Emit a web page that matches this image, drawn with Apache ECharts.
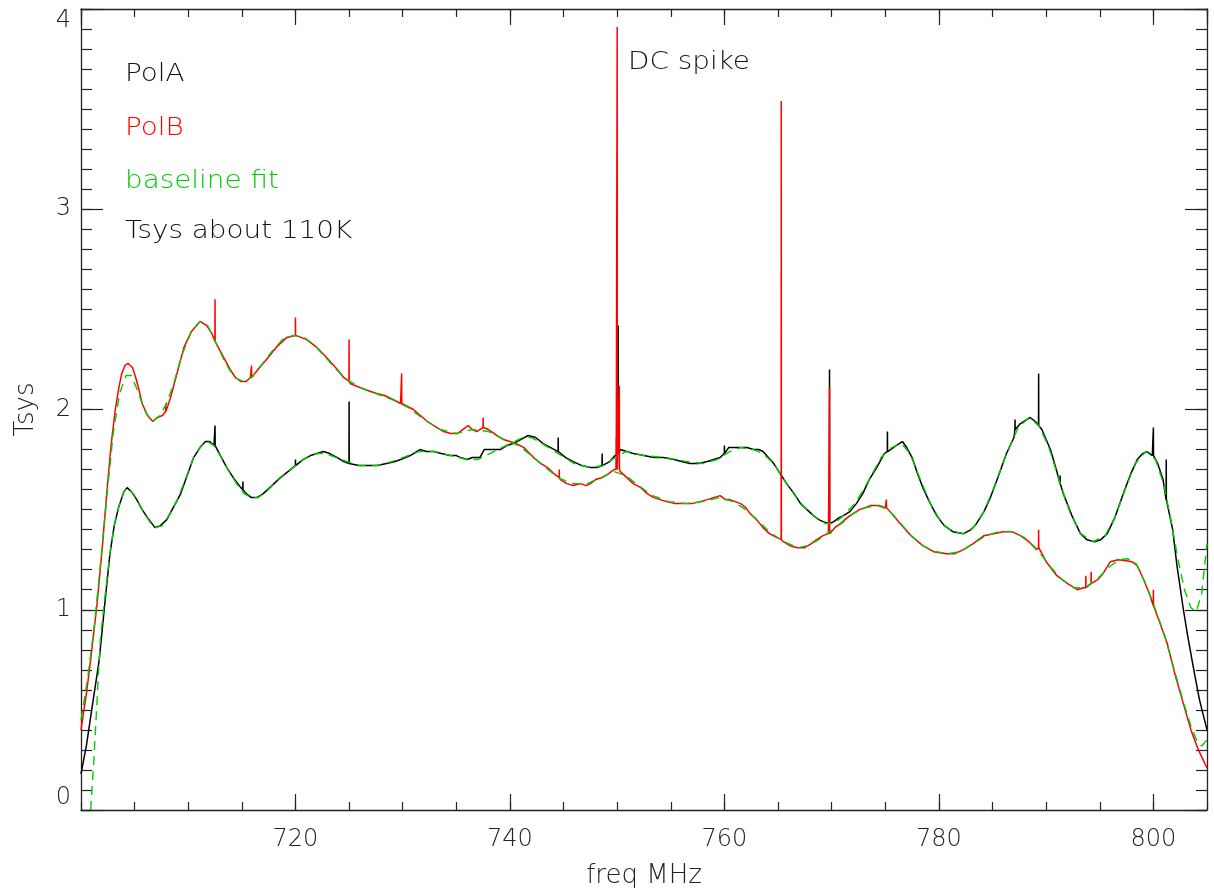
<!DOCTYPE html>
<html>
<head>
<meta charset="utf-8">
<script src="https://cdn.jsdelivr.net/npm/echarts@6/dist/echarts.min.js"></script>
<style>
html,body{margin:0;padding:0;background:#fff;}
#chart{width:1214px;height:896px;}
</style>
</head>
<body>
<div id="chart"></div>
<script>
// ---- data ----
const polAFreq = [700.0,700.5,701.0,701.7,702.2,702.7,703.1,703.5,704.0,704.3,704.7,705.2,705.7,706.2,706.9,707.4,708.0,708.6,709.3,709.9,710.5,711.1,711.6,712.0,712.4,713.0,713.6,714.2,714.9,715.4,715.9,716.4,717.0,717.8,718.6,719.3,720.1,720.7,721.4,722.0,722.6,723.2,723.9,724.5,725.1,725.9,726.7,727.6,728.5,729.3,729.8,730.7,731.6,732.2,732.9,733.6,734.4,735.0,735.4,736.0,736.5,737.2,737.6,738.2,739.1,739.7,740.3,741.0,741.7,742.4,743.1,743.8,744.5,745.2,745.9,746.7,747.5,748.1,748.7,749.3,749.8,750.3,750.9,751.5,752.5,753.4,754.3,755.3,756.0,756.8,757.6,758.4,759.0,759.6,760.0,760.4,761.0,761.5,762.1,762.7,763.2,763.6,764.1,764.6,765.2,765.8,766.5,767.1,767.7,768.3,768.8,769.2,769.8,770.2,770.7,771.1,771.7,772.3,772.9,773.5,774.2,774.9,775.5,776.0,776.6,777.0,777.5,778.0,778.5,779.2,779.8,780.5,781.3,782.3,783.0,783.5,784.2,784.8,785.5,786.3,787.0,787.6,788.5,789.0,789.6,790.4,791.0,791.6,792.4,793.2,793.8,794.5,795.1,795.7,796.4,797.2,797.9,798.5,799.0,799.4,799.9,800.4,800.9,801.3,801.8,802.2,802.8,803.2,803.7,804.3,805.0];
const polATsys = [0.18,0.32,0.50,0.75,1.02,1.28,1.42,1.51,1.59,1.61,1.59,1.55,1.50,1.46,1.41,1.42,1.45,1.51,1.58,1.67,1.76,1.81,1.84,1.84,1.82,1.77,1.71,1.66,1.61,1.58,1.56,1.56,1.58,1.62,1.66,1.69,1.72,1.75,1.77,1.78,1.79,1.78,1.76,1.74,1.73,1.72,1.72,1.72,1.73,1.74,1.75,1.77,1.80,1.79,1.79,1.78,1.77,1.77,1.76,1.75,1.76,1.76,1.80,1.80,1.80,1.82,1.83,1.85,1.87,1.86,1.83,1.81,1.79,1.76,1.74,1.72,1.71,1.71,1.72,1.74,1.77,1.80,1.79,1.78,1.77,1.76,1.76,1.75,1.74,1.73,1.73,1.74,1.75,1.76,1.78,1.81,1.81,1.81,1.81,1.80,1.80,1.79,1.76,1.73,1.68,1.63,1.58,1.53,1.50,1.47,1.45,1.44,1.43,1.44,1.46,1.47,1.49,1.53,1.58,1.65,1.71,1.78,1.80,1.82,1.84,1.81,1.76,1.68,1.61,1.53,1.47,1.42,1.39,1.38,1.40,1.43,1.49,1.56,1.66,1.78,1.86,1.93,1.96,1.94,1.90,1.80,1.69,1.58,1.47,1.38,1.35,1.34,1.35,1.38,1.46,1.58,1.68,1.75,1.78,1.79,1.77,1.73,1.65,1.55,1.40,1.22,1.00,0.87,0.72,0.55,0.40];
const polASpikeFreq = [712.5,715.1,720.0,725.0,744.5,748.6,750.1,760.0,769.8,775.2,787.1,789.3,791.3,800.0,801.2];
const polASpikeBase = [1.82,1.60,1.72,1.73,1.79,1.72,1.78,1.78,1.43,1.79,1.90,1.92,1.63,1.77,1.55];
const polASpikeTop  = [1.92,1.64,1.75,2.04,1.86,1.78,2.42,1.82,2.20,1.89,1.95,2.18,1.67,1.91,1.75];

const polBFreq = [700.0,700.5,700.9,701.5,702.0,702.4,702.8,703.2,703.5,703.8,704.1,704.4,704.8,705.1,705.4,705.7,706.2,706.7,707.1,707.6,708.3,708.9,709.6,710.3,711.1,711.7,712.2,712.7,713.3,713.9,714.4,714.9,715.4,715.8,716.5,717.3,718.2,719.2,720.1,721.0,722.0,722.9,723.9,724.5,725.1,726.0,727.0,727.6,728.3,729.1,729.8,731.0,732.3,733.2,733.8,734.5,735.1,735.6,736.1,736.5,736.9,737.5,738.0,738.8,739.4,740.0,740.6,741.3,742.2,742.9,743.5,744.1,744.7,745.3,745.9,746.6,747.1,747.5,748.0,748.6,749.2,749.7,750.3,750.9,751.5,752.2,752.8,753.4,754.0,754.6,755.4,756.2,757.0,757.7,758.4,759.0,759.6,760.1,760.5,761.0,761.5,762.0,762.4,763.0,763.6,764.2,764.9,765.5,766.1,766.8,767.5,768.1,768.6,769.2,769.7,770.3,770.8,771.7,772.6,773.6,774.5,775.0,775.6,776.4,777.4,778.5,779.5,780.7,781.5,782.3,783.2,784.2,785.1,786.0,786.8,787.6,788.4,789.1,790.0,791.0,792.0,792.9,793.5,794.2,794.8,795.3,796.0,796.7,797.5,798.0,798.5,799.1,799.7,800.5,801.3,802.0,802.8,803.5,804.2,805.0];
const polBTsys = [0.40,0.58,0.75,1.03,1.32,1.58,1.82,2.00,2.10,2.18,2.22,2.23,2.21,2.16,2.10,2.03,1.97,1.94,1.96,1.97,2.05,2.17,2.31,2.39,2.44,2.42,2.38,2.32,2.26,2.20,2.16,2.14,2.14,2.16,2.20,2.25,2.31,2.36,2.37,2.35,2.31,2.26,2.20,2.16,2.13,2.11,2.09,2.08,2.07,2.05,2.03,2.00,1.94,1.91,1.89,1.88,1.88,1.90,1.92,1.90,1.89,1.91,1.90,1.87,1.85,1.84,1.83,1.81,1.76,1.73,1.71,1.68,1.65,1.63,1.62,1.63,1.62,1.63,1.65,1.66,1.68,1.70,1.69,1.66,1.63,1.61,1.58,1.56,1.55,1.54,1.53,1.53,1.53,1.54,1.55,1.56,1.57,1.55,1.55,1.54,1.53,1.51,1.48,1.45,1.41,1.38,1.36,1.34,1.32,1.31,1.31,1.33,1.35,1.37,1.38,1.41,1.43,1.47,1.50,1.52,1.52,1.51,1.48,1.43,1.37,1.32,1.29,1.28,1.28,1.30,1.33,1.37,1.38,1.39,1.39,1.37,1.34,1.30,1.24,1.17,1.13,1.10,1.11,1.13,1.15,1.18,1.24,1.25,1.245,1.24,1.22,1.15,1.07,0.95,0.83,0.68,0.53,0.40,0.30,0.21];
const polBSpikeFreq = [707.9,712.5,715.9,720.0,725.0,729.9,737.5,744.6,749.9,750.0,750.2,765.3,769.8,775.1,789.3,793.7,794.2,800.0];
const polBSpikeBase = [1.99,2.34,2.16,2.37,2.14,2.03,1.91,1.66,1.70,1.70,1.70,1.35,1.38,1.51,1.31,1.11,1.13,1.02];
const polBSpikeTop  = [2.03,2.55,2.22,2.46,2.35,2.18,1.96,1.70,1.86,3.91,2.12,3.54,2.11,1.55,1.40,1.17,1.19,1.10];

const fitAFreq = [700.9,701.2,701.5,701.8,702.2,702.7,703.1,703.5,704.0,704.4,705.0,705.7,706.4,707.0,707.6,708.3,709.0,709.8,710.5,711.2,711.8,712.4,713.1,713.8,714.5,715.2,715.9,716.5,717.3,718.2,719.1,720.0,721.0,722.0,722.8,723.8,724.8,726.0,727.5,729.0,730.5,731.5,733.0,734.5,736.0,737.0,738.5,740.0,741.2,742.0,743.0,744.5,746.0,747.5,748.7,749.8,750.8,752.5,754.5,756.5,758.0,759.3,760.5,761.5,762.7,763.6,764.6,765.8,767.1,768.3,769.4,770.2,771.1,772.3,773.5,774.6,775.6,776.5,777.3,778.2,779.2,780.3,781.3,782.3,783.2,784.2,785.2,786.3,787.4,788.4,789.3,790.2,791.2,792.2,793.2,794.4,795.5,796.4,797.3,798.3,799.3,800.2,801.0,801.7,802.3,802.9,803.5,804.0,804.5,805.0];
const fitATsys = [0.00,0.25,0.55,0.85,1.05,1.28,1.42,1.51,1.59,1.61,1.57,1.50,1.44,1.41,1.42,1.48,1.55,1.66,1.76,1.82,1.84,1.82,1.76,1.69,1.63,1.58,1.56,1.56,1.59,1.64,1.68,1.72,1.76,1.78,1.78,1.76,1.74,1.72,1.72,1.74,1.77,1.79,1.79,1.77,1.75,1.75,1.79,1.83,1.86,1.86,1.83,1.78,1.73,1.71,1.72,1.76,1.79,1.77,1.76,1.74,1.73,1.75,1.79,1.81,1.80,1.78,1.73,1.63,1.53,1.47,1.43,1.43,1.47,1.54,1.65,1.76,1.81,1.83,1.78,1.66,1.53,1.43,1.39,1.38,1.41,1.49,1.62,1.78,1.91,1.96,1.92,1.82,1.65,1.49,1.38,1.34,1.37,1.46,1.59,1.73,1.79,1.75,1.62,1.43,1.25,1.10,1.01,0.99,1.08,1.33];

const fitBFreq = [700.0,700.6,701.2,701.8,702.4,703.0,703.6,704.2,704.7,705.3,706.0,706.6,707.2,707.9,708.6,709.4,710.3,711.1,711.8,712.6,713.5,714.3,715.1,715.9,716.8,717.8,718.8,719.8,720.8,721.8,722.8,723.8,724.8,726.0,727.5,729.0,730.5,732.0,733.5,735.0,736.5,738.0,739.5,740.8,742.0,743.3,744.5,745.8,747.2,748.5,749.7,750.8,752.0,753.3,754.8,756.5,758.0,759.5,760.8,762.0,763.2,764.4,765.6,766.8,767.8,768.8,769.8,770.9,772.0,773.2,774.3,775.3,776.3,777.4,778.5,779.7,780.9,782.0,783.2,784.4,785.6,786.8,788.0,789.2,790.3,791.5,792.6,793.6,794.7,795.8,796.8,797.6,798.4,799.2,800.0,801.0,802.0,802.8,803.5,804.1,804.5,805.0];
const fitBTsys = [0.45,0.65,0.90,1.22,1.56,1.88,2.08,2.17,2.17,2.09,1.99,1.94,1.96,2.02,2.12,2.27,2.39,2.44,2.42,2.33,2.23,2.16,2.14,2.16,2.22,2.29,2.35,2.37,2.36,2.32,2.26,2.20,2.15,2.11,2.08,2.05,2.01,1.95,1.90,1.88,1.90,1.89,1.85,1.82,1.77,1.71,1.66,1.63,1.63,1.66,1.69,1.67,1.62,1.57,1.54,1.53,1.54,1.56,1.54,1.50,1.44,1.38,1.34,1.31,1.32,1.35,1.39,1.43,1.48,1.51,1.52,1.50,1.44,1.37,1.32,1.29,1.28,1.29,1.33,1.37,1.39,1.39,1.36,1.30,1.22,1.15,1.11,1.11,1.15,1.21,1.25,1.255,1.23,1.14,1.03,0.88,0.69,0.54,0.42,0.34,0.32,0.35];

const xTicks = [720, 740, 760, 780, 800];
const yTicks = [0, 1, 2, 3, 4];
const legendTexts = ['PolA', 'PolB', 'baseline fit', 'Tsys about 110K'];
const annotation = 'DC spike';

// ---- build series points ----
function buildPoints(fr, val, sx, sb, st) {
  const pts = fr.map((f, i) => [f, val[i]]);
  if (sx) {
    sx.forEach((x, i) => {
      pts.push([x - 0.012, sb[i]]);
      pts.push([x, st[i]]);
      pts.push([x + 0.012, sb[i]]);
    });
  }
  pts.sort((a, b) => a[0] - b[0]);
  return pts;
}

const FONT = 'DejaVu Sans';
const labelStyle = { fontFamily: FONT, fontSize: 24, color: '#222', fontWeight: 200 };

function xAxisDef(pos, interval, len, main) {
  return {
    type: 'value', position: pos, min: 700, max: 805, interval: interval,
    axisLine: { show: main, onZero: false, lineStyle: { color: '#222', width: 1.3 } },
    axisTick: { show: true, inside: true, length: len, lineStyle: { color: '#222', width: 1.2 } },
    axisLabel: (main && pos === 'bottom') ? Object.assign({ margin: 18, showMinLabel: false, showMaxLabel: false,
      formatter: v => xTicks.indexOf(v) >= 0 ? String(v) : '' }, labelStyle) : { show: false },
    splitLine: { show: false },
    name: (main && pos === 'bottom') ? 'freq MHz' : '',
    nameLocation: 'middle', nameGap: 53,
    nameTextStyle: Object.assign({}, labelStyle, { fontSize: 26 })
  };
}
function yAxisDef(pos, interval, len, main) {
  return {
    type: 'value', position: pos, min: 0, max: 4, interval: interval,
    axisLine: { show: main, onZero: false, lineStyle: { color: '#222', width: 1.3 } },
    axisTick: { show: true, inside: true, length: len, lineStyle: { color: '#222', width: 1.2 } },
    axisLabel: (main && pos === 'left') ? Object.assign({ margin: 10,
      verticalAlignMinLabel: 'bottom', verticalAlignMaxLabel: 'top',
      formatter: v => yTicks.indexOf(v) >= 0 ? String(v) : '' }, labelStyle) : { show: false },
    splitLine: { show: false },
    name: (main && pos === 'left') ? 'Tsys' : '',
    nameLocation: 'middle', nameGap: 42, nameRotate: 90,
    nameTextStyle: Object.assign({}, labelStyle, { fontSize: 26 })
  };
}

function txt(s, x, y, color) {
  return { type: 'text', left: x, top: y - 10, scaleX: 1.16, originX: 0,
    style: { text: s, fill: color, font: '200 24px "DejaVu Sans"' } };
}

const chart = echarts.init(document.getElementById('chart'), null, { renderer: 'canvas' });
const option = {
  animation: false,
  backgroundColor: '#fff',
  grid: { left: 81, right: 7, top: 9, bottom: 86, containLabel: false },
  xAxis: [
    xAxisDef('bottom', 20, 16, true),
    xAxisDef('bottom', 5, 8, false),
    xAxisDef('top', 20, 16, true),
    xAxisDef('top', 5, 8, false)
  ],
  yAxis: [
    yAxisDef('left', 1, 22, true),
    yAxisDef('left', 0.1, 11, false),
    yAxisDef('right', 1, 22, true),
    yAxisDef('right', 0.1, 11, false)
  ],
  series: [
    { name: 'PolA', type: 'line', xAxisIndex: 0, yAxisIndex: 0, showSymbol: false, clip: true,
      lineStyle: { color: '#000', width: 1.5 }, z: 2,
      data: buildPoints(polAFreq, polATsys, polASpikeFreq, polASpikeBase, polASpikeTop) },
    { name: 'PolB', type: 'line', xAxisIndex: 0, yAxisIndex: 0, showSymbol: false, clip: true,
      lineStyle: { color: '#ff0000', width: 1.5 }, z: 3,
      data: buildPoints(polBFreq, polBTsys, polBSpikeFreq, polBSpikeBase, polBSpikeTop) },
    { name: 'fitA', type: 'line', xAxisIndex: 0, yAxisIndex: 0, showSymbol: false, clip: true,
      lineStyle: { color: '#00cc00', width: 1.4, type: [9, 6] }, z: 4,
      data: buildPoints(fitAFreq, fitATsys) },
    { name: 'fitB', type: 'line', xAxisIndex: 0, yAxisIndex: 0, showSymbol: false, clip: true,
      lineStyle: { color: '#00cc00', width: 1.4, type: [9, 6] }, z: 4,
      data: buildPoints(fitBFreq, fitBTsys) }
  ],
  graphic: [
    txt(legendTexts[0], 125, 73, '#111'),
    txt(legendTexts[1], 125, 127, '#ff0000'),
    txt(legendTexts[2], 125, 180, '#00cc00'),
    txt(legendTexts[3], 125, 230, '#111'),
    txt(annotation, 628, 61, '#111')
  ]
};
chart.setOption(option);
</script>
</body>
</html>
